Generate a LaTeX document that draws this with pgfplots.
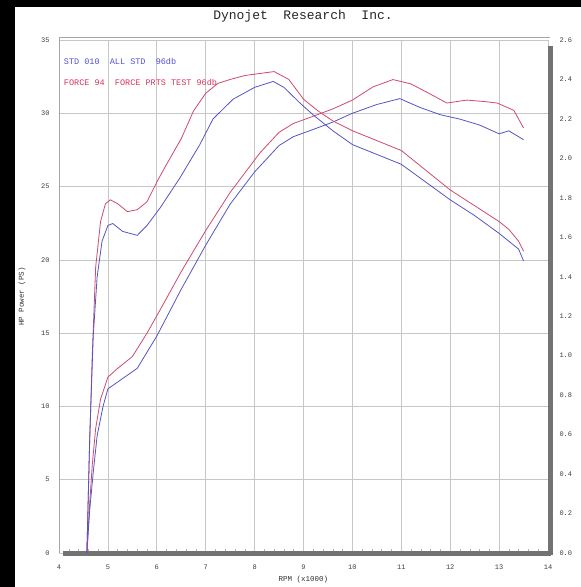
\documentclass[border=0pt]{standalone}
\usepackage{fontspec}
\setmainfont{Liberation Mono}
\usepackage{pgfplots}
\pgfplotsset{compat=1.18}
\definecolor{bl}{RGB}{85,85,195}
\definecolor{rd}{RGB}{205,75,112}
\definecolor{bltxt}{RGB}{80,80,215}
\definecolor{rdtxt}{RGB}{220,50,90}
\begin{document}
\begin{tikzpicture}[x=1pt,y=1pt]
\useasboundingbox (0,0) rectangle (581,587);
\fill[white] (0,0) rectangle (581,587);
\fill[black] (0,0) rectangle (15,587);
\fill[black] (0,580) rectangle (581,587);
\node[font=\fontsize{13}{13}\selectfont, text=black!85] at (303,571) {Dynojet\ \ Research\ \ Inc.};
\begin{axis}[
  at={(59pt,34pt)}, anchor=south west, scale only axis,
  width=489pt, height=513pt,
  xmin=4, xmax=14, ymin=0, ymax=35,
  axis line style={draw=none},
  xtick={4,5,...,14}, ytick={0,5,...,35},
  minor x tick num=4,
  grid=major, major grid style={black!22, line width=0.7pt},
  major tick style={draw=none},
  minor tick style={black!30, line width=0.5pt},
  minor tick length=4pt, tick align=inside,
  xtick pos=lower, ytick pos=left,
  ticklabel style={font=\fontsize{7}{7}\selectfont, text=black!75},
  xticklabel style={yshift=-8pt},
  yticklabel style={xshift=-6pt},
  /pgf/number format/assume math mode=true,
  xlabel={RPM (x1000)}, ylabel={HP Power (PS)},
  label style={font=\fontsize{7.5}{7.5}\selectfont, text=black!80},
  xlabel style={at={(axis description cs:0.5,-0.0526)}, anchor=center},
  ylabel style={at={(axis description cs:-0.0757,0.5)}, anchor=center},
  clip=false,
]
\draw[black!35, line width=0.8pt] (axis cs:4,0) -- (axis cs:4,35.2) -- (axis cs:14.05,35.2);
\draw[black!55, line width=5pt] (axis cs:4.08,0) -- (axis cs:14.06,0);
\draw[black!55, line width=5pt] (axis cs:14.06,-0.17) -- (axis cs:14.06,34.6);
\node[anchor=west, text=bltxt, font=\fontsize{8.5}{8.5}\selectfont] at (axis cs:4.03,33.55) {STD 010\ \ ALL STD\ \ 96db};
\node[anchor=west, text=rdtxt, font=\fontsize{8.5}{8.5}\selectfont] at (axis cs:4.03,32.1) {FORCE 94\ \ FORCE PRTS TEST 96db};
% red power
\addplot[rd, line width=0.8pt] coordinates {
(4.57,0) (4.62,3) (4.68,6) (4.75,8.5) (4.85,10.5) (5.0,12.0) (5.2,12.6) (5.5,13.4) (5.8,15.0) (6.07,16.6) (6.5,19.2) (7.0,22.0) (7.5,24.6) (8.11,27.3) (8.5,28.7) (8.79,29.3) (9.2,29.8) (9.6,30.3) (10.0,30.9) (10.42,31.8) (10.83,32.3) (11.2,32.0) (11.6,31.3) (11.93,30.7) (12.34,30.9) (12.7,30.8) (12.96,30.7) (13.3,30.2) (13.5,29.0)
};
% blue power
\addplot[bl, line width=0.8pt] coordinates {
(4.57,0) (4.63,3) (4.7,5.5) (4.78,8) (4.9,10) (5.0,11.2) (5.3,11.9) (5.6,12.6) (6.0,14.8) (6.5,18.0) (7.0,21.0) (7.5,23.8) (8.0,26.0) (8.5,27.8) (8.79,28.4) (9.2,28.9) (9.6,29.4) (10.0,30.0) (10.5,30.6) (10.97,31.0) (11.38,30.4) (11.8,29.9) (12.2,29.6) (12.6,29.2) (13.0,28.6) (13.2,28.8) (13.35,28.5) (13.5,28.2)
};
\end{axis}
\begin{axis}[
  at={(59pt,34pt)}, anchor=south west, scale only axis,
  width=489pt, height=513pt,
  xmin=4, xmax=14, ymin=0, ymax=2.6,
  axis x line=none, axis y line*=right,
  axis line style={draw=none},
  ytick={0,0.2,0.4,0.6,0.8,1.0,1.2,1.4,1.6,1.8,2.0,2.2,2.4,2.6},
  major tick style={draw=none},
  yticklabel style={font=\fontsize{7}{7}\selectfont, text=black!75, xshift=8pt,
    /pgf/number format/.cd, fixed, fixed zerofill, precision=1},
  /pgf/number format/assume math mode=true,
]
% red torque
\addplot[rd, line width=0.8pt] coordinates {
(4.57,0) (4.62,0.5) (4.68,1.0) (4.75,1.45) (4.85,1.68) (4.95,1.77) (5.05,1.79) (5.2,1.77) (5.4,1.73) (5.6,1.74) (5.8,1.78) (6.0,1.88) (6.2,1.97) (6.5,2.10) (6.75,2.24) (7.0,2.33) (7.25,2.38) (7.5,2.40) (7.8,2.42) (8.1,2.43) (8.4,2.44) (8.7,2.40) (9.0,2.30) (9.3,2.24) (9.6,2.19) (10.0,2.14) (10.5,2.09) (11.0,2.04) (11.5,1.94) (12.0,1.84) (12.5,1.76) (13.0,1.68) (13.2,1.64) (13.4,1.58) (13.5,1.53)
};
% blue torque
\addplot[bl, line width=0.8pt] coordinates {
(4.57,0) (4.63,0.6) (4.7,1.1) (4.78,1.40) (4.88,1.58) (5.0,1.66) (5.1,1.67) (5.3,1.63) (5.6,1.61) (5.8,1.66) (6.07,1.75) (6.47,1.90) (6.88,2.07) (7.15,2.20) (7.56,2.30) (8.0,2.36) (8.38,2.39) (8.6,2.36) (8.93,2.28) (9.2,2.22) (9.6,2.14) (10.0,2.07) (10.5,2.02) (11.0,1.97) (11.5,1.88) (12.0,1.79) (12.5,1.71) (13.0,1.62) (13.2,1.58) (13.4,1.54) (13.5,1.48)
};
\end{axis}
\end{tikzpicture}
\end{document}
